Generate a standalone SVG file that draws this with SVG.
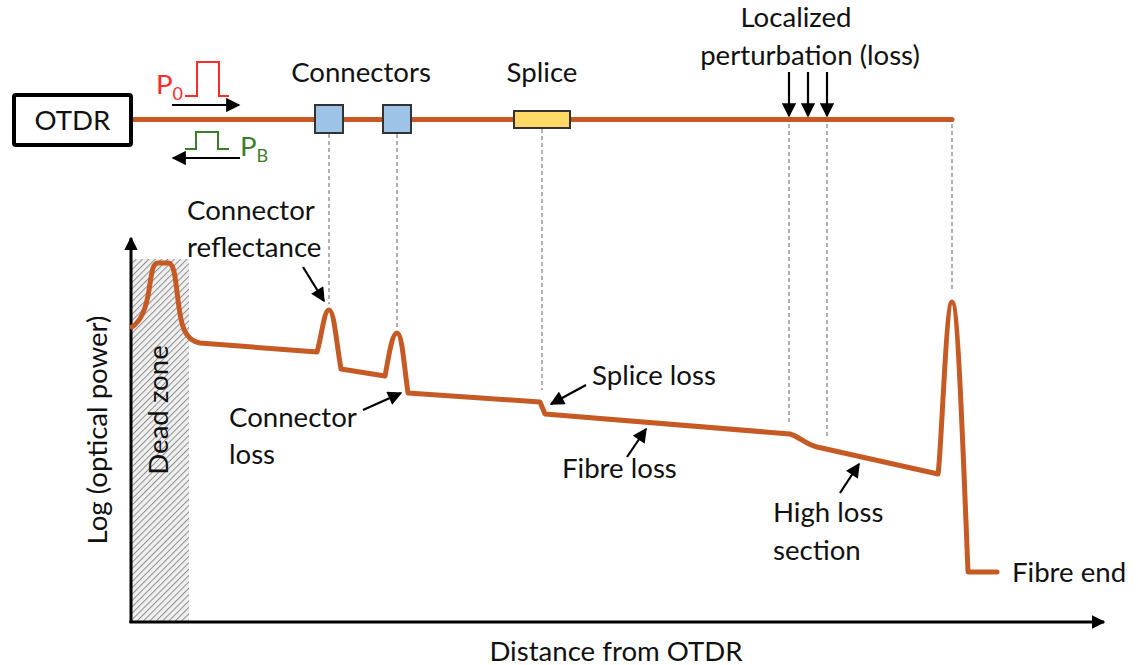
<svg xmlns="http://www.w3.org/2000/svg" width="1138" height="665" viewBox="0 0 1138 665">
<style>
.t{font-family:Lato,"Liberation Sans",sans-serif;font-size:27.6px;fill:#111}
.fibre{stroke:#C55A24;stroke-width:5;fill:none;stroke-linecap:round;stroke-linejoin:round}
.dash{stroke:#888;stroke-width:1.3;stroke-dasharray:4,3;fill:none}
.arr{stroke:#000;stroke-width:2.2;fill:none;marker-end:url(#ah)}
.axis{stroke:#000;stroke-width:3;fill:none;marker-end:url(#ax)}
</style>
<defs>
<marker id="ah" viewBox="0 0 10 10" refX="9" refY="5" markerWidth="7" markerHeight="6.5" orient="auto" markerUnits="strokeWidth"><path d="M0,0 L10,5 L0,10 z" fill="#000"/></marker>
<marker id="ax" viewBox="0 0 10 10" refX="9" refY="5" markerWidth="4.5" markerHeight="4.5" orient="auto" markerUnits="strokeWidth"><path d="M0,0 L10,5 L0,10 z" fill="#000"/></marker>
<pattern id="hatch" width="4.5" height="4.5" patternUnits="userSpaceOnUse" patternTransform="rotate(45)">
<rect width="4.5" height="4.5" fill="#f0f0f0"/>
<line x1="0" y1="0" x2="0" y2="4.5" stroke="#8f8f8f" stroke-width="2"/>
</pattern>
</defs>
<rect width="1138" height="665" fill="#fff"/>

<g id="dead-zone">
<rect x="132" y="259" width="57" height="362" fill="url(#hatch)"/>
<text class="t" transform="translate(168,410) rotate(-90)" text-anchor="middle">Dead zone</text>
</g>

<g id="connectors">
<line class="dash" x1="329" y1="134" x2="329" y2="304"/>
<line class="dash" x1="397" y1="134" x2="397" y2="328"/>
<line class="dash" x1="542" y1="129" x2="542" y2="390"/>
<line class="dash" x1="789" y1="124" x2="789" y2="425"/>
<line class="dash" x1="827" y1="124" x2="827" y2="436"/>
<line class="dash" x1="952" y1="124" x2="952" y2="292"/>
<line class="arr" x1="303" y1="267" x2="324" y2="301"/>
<line class="arr" x1="363" y1="410" x2="401" y2="393"/>
<line class="arr" x1="586" y1="385" x2="551" y2="404"/>
<line class="arr" x1="627" y1="457" x2="646" y2="429"/>
<line class="arr" x1="840" y1="493" x2="859" y2="464"/>
<line class="arr" x1="789" y1="72" x2="789" y2="116"/>
<line class="arr" x1="808" y1="72" x2="808" y2="116"/>
<line class="arr" x1="827" y1="72" x2="827" y2="116"/>
<line class="arr" x1="172" y1="105" x2="239" y2="105"/>
<line class="arr" x1="240" y1="158" x2="173" y2="158"/>
</g>

<g id="fibre-line">
<line x1="132" y1="119.5" x2="952" y2="119.5" stroke="#C55A24" stroke-width="5" stroke-linecap="round"/>
</g>

<g id="otdr">
<rect x="14" y="95" width="117" height="50" rx="2" fill="#fff" stroke="#000" stroke-width="4"/>
<text class="t" x="72.5" y="130" text-anchor="middle">OTDR</text>
</g>

<g id="pulse-forward">
<polyline points="185,96 197,96 197,62 219,62 219,96 229,96" fill="none" stroke="#FF2a2a" stroke-width="2"/>
<text class="t" x="156" y="94" style="fill:#FF2a2a">P<tspan font-size="18" dy="6">0</tspan></text>
</g>

<g id="pulse-back">
<polyline points="185,149 196,149 196,132 218,132 218,149 229,149" fill="none" stroke="#3C7D2C" stroke-width="2"/>
<text class="t" x="240" y="156" style="fill:#3C7D2C">P<tspan font-size="18" dy="6">B</tspan></text>
</g>

<g id="connector-1"><rect x="315" y="105" width="28" height="28" fill="#9DC3E6" stroke="#333" stroke-width="2"/></g>
<g id="connector-2"><rect x="383" y="105" width="28" height="28" fill="#9DC3E6" stroke="#333" stroke-width="2"/></g>
<g id="splice"><rect x="514" y="111" width="56" height="17" fill="#FFD966" stroke="#333" stroke-width="2"/></g>

<g id="labels">
<text class="t" x="361" y="82" text-anchor="middle">Connectors</text>
<text class="t" x="542" y="82" text-anchor="middle">Splice</text>
<text class="t" x="796" y="27" text-anchor="middle">Localized</text>
<text class="t" x="810" y="65" text-anchor="middle">perturbation (loss)</text>
<text class="t" x="187" y="220">Connector</text>
<text class="t" x="187" y="257">reflectance</text>
<text class="t" x="229" y="427">Connector</text>
<text class="t" x="229" y="464">loss</text>
<text class="t" x="592" y="385">Splice loss</text>
<text class="t" x="562" y="478">Fibre loss</text>
<text class="t" x="773" y="522">High loss</text>
<text class="t" x="773" y="560">section</text>
<text class="t" x="1012" y="582">Fibre end</text>
</g>

<g id="axes">
<line class="axis" x1="131" y1="623" x2="131" y2="238"/>
<line class="axis" x1="129.5" y1="622" x2="1104" y2="622"/>
<text class="t" transform="translate(107,430) rotate(-90)" text-anchor="middle">Log (optical power)</text>
<text class="t" x="616" y="661" text-anchor="middle">Distance from OTDR</text>
</g>

<g id="trace">
<path class="fibre" d="M132,327 C140,322 146,310 149,290 C152,270 153,263 158,263 L168,263 C174,263 175,275 178,300 C181,325 184,340 200,343 L317,352 C322,335 324,310 329,310 C334,310 336,340 341,369 L385,376 C389,355 392,333 397,333 C402,333 404,365 408,393 L540,402 L545,414 L790,434 C800,437 805,444 817,447 L938,474 C941,460 946,302 952,302 C958,302 963,450 968,572 L997,572"/>
</g>
</svg>
